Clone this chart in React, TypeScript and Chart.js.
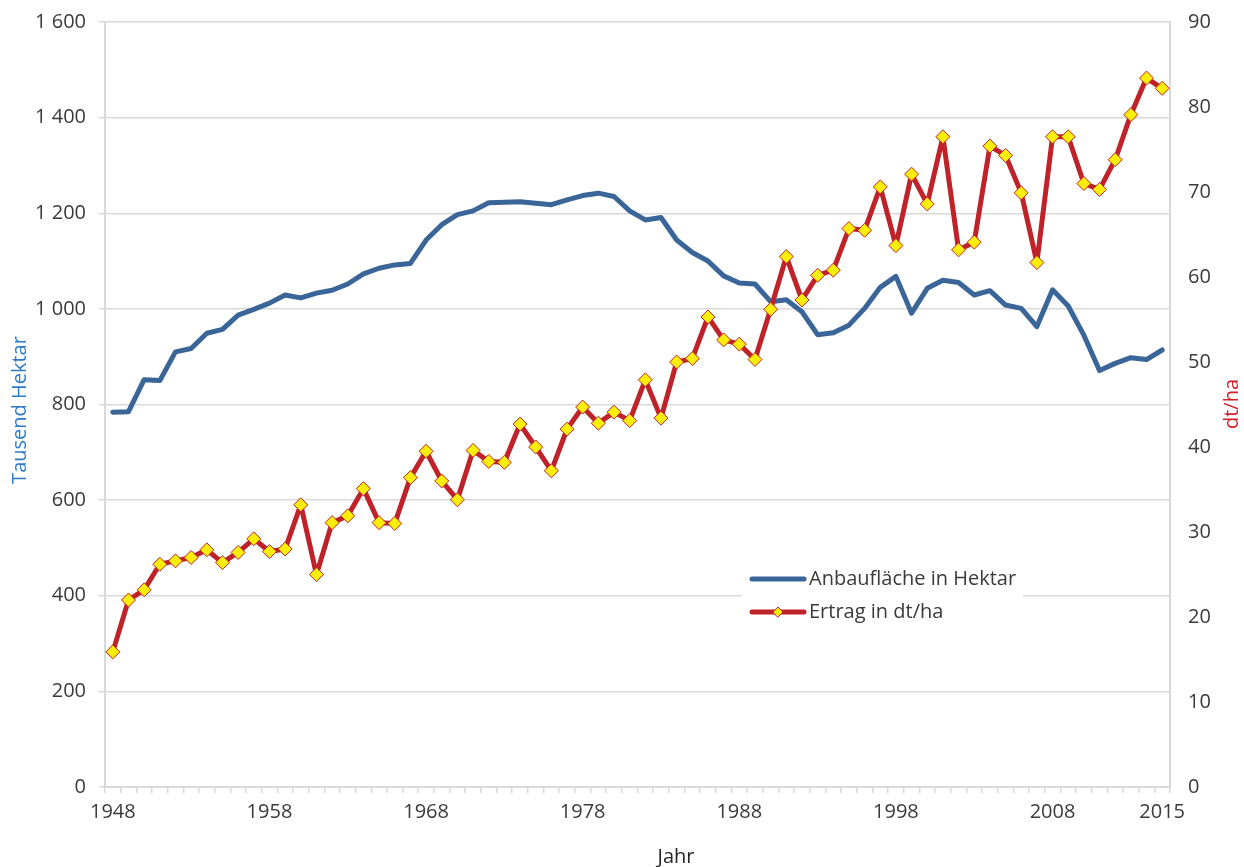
import React, { useEffect, useRef } from 'react';
import { Chart, registerables } from 'chart.js';

Chart.register(...registerables);

const years = [
  '1948', '1949', '1950', '1951', '1952', '1953', '1954', '1955', '1956', '1957',
  '1958', '1959', '1960', '1961', '1962', '1963', '1964', '1965', '1966', '1967',
  '1968', '1969', '1970', '1971', '1972', '1973', '1974', '1975', '1976', '1977',
  '1978', '1979', '1980', '1981', '1982', '1983', '1984', '1985', '1986', '1987',
  '1988', '1989', '1990', '1991', '1992', '1993', '1994', '1995', '1996', '1997',
  '1998', '1999', '2000', '2001', '2002', '2003', '2004', '2005', '2006', '2007',
  '2008', '2009', '2010', '2011', '2012', '2013', '2014', '2015',
];

// Anbaufläche in Tausend Hektar
const anbauflaeche = [
  784, 785, 852, 850, 910, 917, 949, 957, 987, 999,
  1012, 1029, 1023, 1033, 1039, 1052, 1073, 1085, 1092, 1095,
  1144, 1176, 1197, 1205, 1222, 1223, 1224, 1221, 1218, 1228,
  1237, 1242, 1235, 1205, 1186, 1191, 1144, 1118, 1100, 1069,
  1054, 1052, 1015, 1019, 994, 946, 950, 966, 1001, 1045,
  1068, 991, 1043, 1060, 1055, 1029, 1038, 1008, 1001, 963,
  1040, 1006, 945, 871, 886, 898, 894, 914,
];

// Ertrag in dt/ha
const ertrag = [
  15.9, 22.0, 23.2, 26.2, 26.6, 27.0, 27.9, 26.4, 27.6, 29.2,
  27.7, 28.0, 33.2, 25.0, 31.1, 31.9, 35.1, 31.1, 31.0, 36.4,
  39.5, 36.0, 33.8, 39.6, 38.3, 38.2, 42.7, 40.0, 37.2, 42.1,
  44.7, 42.8, 44.1, 43.1, 47.9, 43.4, 50.0, 50.4, 55.3, 52.6,
  52.1, 50.3, 56.2, 62.4, 57.3, 60.2, 60.8, 65.7, 65.5, 70.6,
  63.7, 72.1, 68.6, 76.5, 63.2, 64.1, 75.4, 74.3, 69.9, 61.7,
  76.5, 76.5, 71.0, 70.3, 73.8, 79.1, 83.4, 82.2,
];

const xTickLabels = ['1948', '1958', '1968', '1978', '1988', '1998', '2008', '2015'];

const seriesLabels = ['Anbaufläche in Hektar', 'Ertrag in dt/ha'];
const axisTitles = { left: 'Tausend Hektar', right: 'dt/ha', bottom: 'Jahr' };

const BLUE = '#3a6598';
const RED = '#c0222a';
const YELLOW = '#fcee0a';
const GRID = '#d9d9d9';
const TEXT = '#3a3a3a';
const FONT = "'Open Sans', 'Noto Sans', sans-serif";

const formatThousands = (v: number) => {
  if (v >= 1000) {
    const t = Math.floor(v / 1000);
    const r = String(v % 1000).padStart(3, '0');
    return `${t} ${r}`;
  }
  return String(v);
};

const overlayPlugin = {
  id: 'overlay',
  afterDraw(chart: any) {
    const { ctx } = chart;
    ctx.save();
    // axis titles
    ctx.font = `20px ${FONT}`;
    ctx.textAlign = 'center';
    ctx.textBaseline = 'middle';
    ctx.fillStyle = '#2e7bc4';
    ctx.save();
    ctx.translate(20, 410);
    ctx.rotate(-Math.PI / 2);
    ctx.fillText(axisTitles.left, 0, 0);
    ctx.restore();
    ctx.fillStyle = '#d0202a';
    ctx.save();
    ctx.translate(1232, 404);
    ctx.rotate(-Math.PI / 2);
    ctx.fillText(axisTitles.right, 0, 0);
    ctx.restore();
    ctx.fillStyle = '#262626';
    ctx.fillText(axisTitles.bottom, 676, 857);

    // legend box
    const bx = 741;
    const by = 560;
    ctx.fillStyle = '#ffffff';
    ctx.fillRect(bx, by, 282, 68);
    const rows = [579, 612];
    const ds = chart.data.datasets;
    for (let i = 0; i < 2; i++) {
      const y = rows[i];
      const d = ds[i];
      ctx.strokeStyle = d.borderColor;
      ctx.lineWidth = 5;
      ctx.lineCap = 'round';
      ctx.beginPath();
      ctx.moveTo(752, y);
      ctx.lineTo(804, y);
      ctx.stroke();
      if (i === 1) {
        const r = 5;
        ctx.beginPath();
        ctx.moveTo(778 - r, y);
        ctx.lineTo(778, y - r);
        ctx.lineTo(778 + r, y);
        ctx.lineTo(778, y + r);
        ctx.closePath();
        ctx.fillStyle = YELLOW;
        ctx.fill();
        ctx.lineWidth = 1;
        ctx.strokeStyle = RED;
        ctx.stroke();
      }
      ctx.fillStyle = TEXT;
      ctx.textAlign = 'left';
      ctx.textBaseline = 'middle';
      ctx.font = `20px ${FONT}`;
      ctx.fillText(d.label, 809, y);
    }
    ctx.restore();
  },
};

export default function App() {
  const canvasRef = useRef<HTMLCanvasElement | null>(null);

  useEffect(() => {
    if (!canvasRef.current) return;
    Chart.defaults.font.family = FONT;
    Chart.defaults.font.size = 20;
    Chart.defaults.color = TEXT;

    const chart = new Chart(canvasRef.current, {
      type: 'line',
      data: {
        labels: years,
        datasets: [
          {
            label: seriesLabels[0],
            data: anbauflaeche,
            yAxisID: 'y',
            borderColor: BLUE,
            backgroundColor: BLUE,
            borderWidth: 5,
            pointRadius: 0,
            pointHoverRadius: 0,
            tension: 0,
            borderJoinStyle: 'round',
            borderCapStyle: 'round',
            order: 1,
          },
          {
            label: seriesLabels[1],
            data: ertrag,
            yAxisID: 'y1',
            borderColor: RED,
            backgroundColor: YELLOW,
            borderWidth: 5,
            pointStyle: 'rectRot',
            pointRadius: 7,
            pointBackgroundColor: YELLOW,
            pointBorderColor: RED,
            pointBorderWidth: 1,
            tension: 0,
            borderJoinStyle: 'round',
            order: 0,
          },
        ],
      },
      options: {
        animation: false,
        responsive: false,
        devicePixelRatio: 1,
        layout: { padding: { top: 22, left: 0, right: 0, bottom: 0 } },
        plugins: {
          legend: { display: false },
          tooltip: { enabled: false },
          title: { display: false },
        },
        scales: {
          x: {
            type: 'category',
            offset: true,
            grid: {
              offset: true,
              drawOnChartArea: false,
              drawTicks: true,
              tickLength: 6,
              color: GRID,
              lineWidth: 1.5,
            },
            border: { display: true, color: GRID, width: 2 },
            ticks: {
              autoSkip: false,
              maxRotation: 0,
              minRotation: 0,
              padding: 7,
              color: TEXT,
              font: { size: 20 },
              callback: function (this: any, _v: any, index: number) {
                const lab = years[index];
                return xTickLabels.includes(lab) ? lab : '';
              },
            },
            afterFit: (scale: any) => {
              scale.height = 80;
              scale.paddingLeft = 0;
              scale.paddingRight = 0;
            },
          },
          y: {
            position: 'left',
            min: 0,
            max: 1600,
            grid: {
              drawOnChartArea: true,
              drawTicks: true,
              tickLength: 6,
              color: GRID,
              lineWidth: 1.5,
            },
            border: { display: true, color: GRID, width: 2 },
            ticks: {
              stepSize: 200,
              padding: 13,
              color: TEXT,
              font: { size: 20 },
              callback: (v: any) => formatThousands(Number(v)),
            },
            afterFit: (scale: any) => {
              scale.width = 105;
              scale.paddingTop = 0;
              scale.paddingBottom = 0;
            },
          },
          y1: {
            position: 'right',
            min: 0,
            max: 90,
            grid: {
              drawOnChartArea: false,
              drawTicks: false,
              color: GRID,
            },
            border: { display: true, color: GRID, width: 2 },
            ticks: {
              stepSize: 10,
              padding: 18,
              color: TEXT,
              font: { size: 20 },
            },
            afterFit: (scale: any) => {
              scale.width = 74;
              scale.paddingTop = 0;
              scale.paddingBottom = 0;
            },
          },
        },
      },
      plugins: [overlayPlugin],
    });

    return () => {
      chart.destroy();
    };
  }, []);

  return (
    <div style={{ position: 'fixed', left: 0, top: 0, width: 1244, height: 867, background: '#ffffff' }}>
      <canvas ref={canvasRef} width={1244} height={867} style={{ display: 'block', width: 1244, height: 867 }} />
    </div>
  );
}
